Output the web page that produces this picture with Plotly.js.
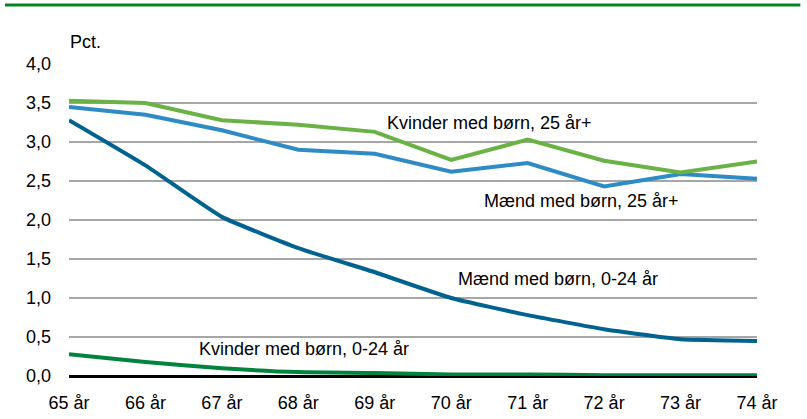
<!DOCTYPE html>
<html>
<head>
<meta charset="utf-8">
<script src="https://cdn.plot.ly/plotly-3.0.1.min.js"></script>
<style>html,body{margin:0;padding:0;background:#fff;}#chart{width:807px;height:419px;}</style>
</head>
<body>
<div id="chart"></div>
<script>
const categories = ["65 år","66 år","67 år","68 år","69 år","70 år","71 år","72 år","73 år","74 år"];
const kvinder25 = [3.53,3.50,3.28,3.22,3.13,2.77,3.03,2.76,2.61,2.75];
const maend25 = [3.45,3.35,3.15,2.90,2.85,2.62,2.73,2.43,2.59,2.53];
const maend024 = [3.28,2.70,2.04,1.64,1.33,1.00,0.78,0.60,0.47,0.45];
const kvinder024 = [0.28,0.18,0.10,0.05,0.04,0.02,0.02,0.01,0.01,0.01];
const yTicks = [0,0.5,1,1.5,2,2.5,3,3.5,4];
const yTickText = ["0,0","0,5","1,0","1,5","2,0","2,5","3,0","3,5","4,0"];
const labels = ["Kvinder med børn, 25 år+","Mænd med børn, 25 år+","Mænd med børn, 0-24 år","Kvinder med børn, 0-24 år"];

const FONT = "Liberation Sans Narrow, Liberation Sans, Arial, sans-serif";

const traces = [
  {x: categories, y: kvinder024, mode: "lines", line: {color: "#00843d", width: 4, shape: "spline", smoothing: 0.6}, name: labels[3]},
  {x: categories, y: maend024, mode: "lines", line: {color: "#00628f", width: 4, shape: "spline", smoothing: 0.4}, name: labels[2]},
  {x: categories, y: maend25, mode: "lines", line: {color: "#2e8bc4", width: 4}, name: labels[1]},
  {x: categories, y: kvinder25, mode: "lines", line: {color: "#6ab246", width: 4}, name: labels[0]}
];

const annFont = {family: FONT, size: 18, color: "#000"};

const layout = {
  width: 807, height: 419,
  margin: {l: 69, r: 50, t: 64, b: 43},
  paper_bgcolor: "#fff", plot_bgcolor: "#fff",
  showlegend: false,
  font: {family: FONT, size: 17, color: "#000"},
  xaxis: {
    type: "category", range: [0, 9], showgrid: false, zeroline: false,
    showline: false, ticks: "", ticklabelstandoff: 14,
    tickfont: {family: FONT, size: 18, color: "#000"},
    fixedrange: true
  },
  yaxis: {
    range: [0, 4], tickvals: yTicks, ticktext: yTickText,
    showgrid: true, gridcolor: "#a6a6a6", gridwidth: 2,
    zeroline: true, zerolinecolor: "#000", zerolinewidth: 3,
    showline: false, ticks: "", ticklabelstandoff: 17,
    tickfont: {family: FONT, size: 18, color: "#000"}, fixedrange: true
  },
  shapes: [
    {type: "line", xref: "paper", yref: "paper", x0: -0.093, x1: 1.063, y0: 1.189, y1: 1.189, line: {color: "#008522", width: 3}}
  ],
  annotations: [
    {xref: "paper", yref: "paper", x: -0.002, y: 1.07, xanchor: "left", yanchor: "middle", text: "Pct.", showarrow: false, font: annFont},
    {xref: "x", yref: "y", x: 4.13, y: 3.24, xanchor: "left", yanchor: "middle", text: labels[0], showarrow: false, font: annFont},
    {xref: "x", yref: "y", x: 5.40, y: 2.25, xanchor: "left", yanchor: "middle", text: labels[1], showarrow: false, font: annFont},
    {xref: "x", yref: "y", x: 5.06, y: 1.24, xanchor: "left", yanchor: "middle", text: labels[2], showarrow: false, font: annFont},
    {xref: "x", yref: "y", x: 1.68, y: 0.35, xanchor: "left", yanchor: "middle", text: labels[3], showarrow: false, font: annFont}
  ]
};

Plotly.newPlot("chart", traces, layout, {displayModeBar: false, staticPlot: true});
</script>
</body>
</html>
